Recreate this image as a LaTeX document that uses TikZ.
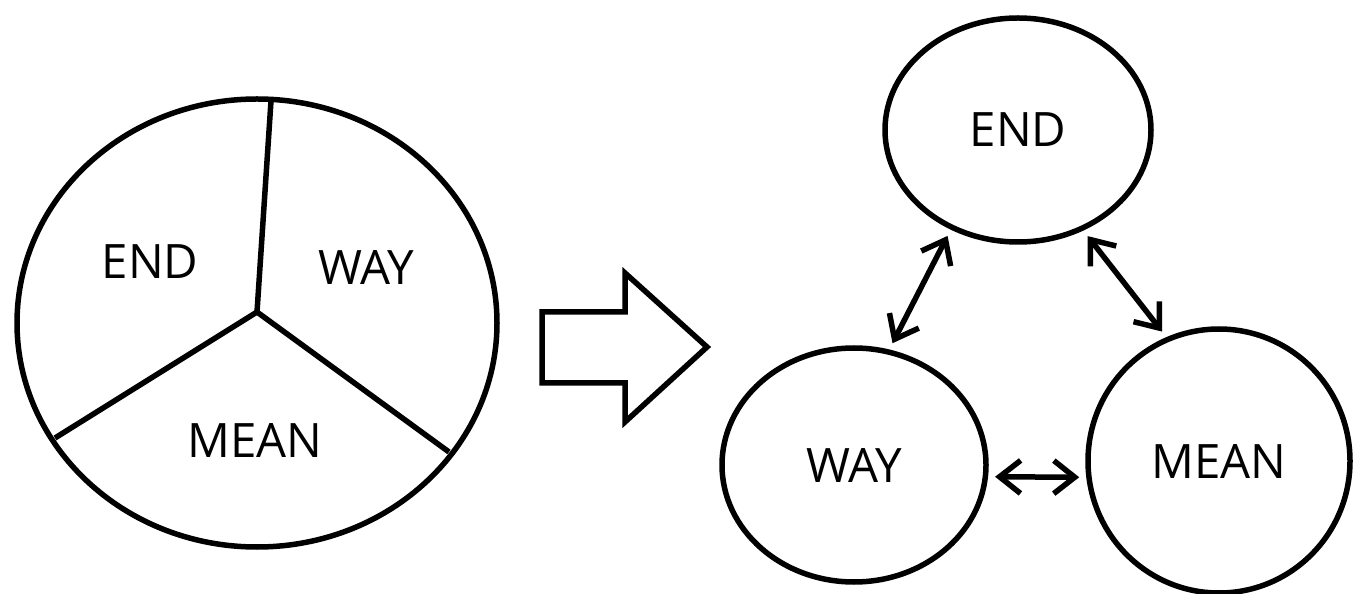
\documentclass[tikz,border=0pt]{standalone}
\usepackage{fontspec}
\setmainfont{Open Sans}
\usetikzlibrary{shapes.geometric,arrows.meta}
\begin{document}
\begin{tikzpicture}[x=0.02cm,y=-0.02cm,line width=0.11cm,
    word/.style={font=\fontsize{27}{32}\selectfont},
    bubble/.style={draw,ellipse,inner sep=0pt,word},
    duplex/.style={{Straight Barb[length=0.42cm,width=0.66cm]}-{Straight Barb[length=0.42cm,width=0.66cm]},
        shorten <=0.14cm,shorten >=0.14cm}]
    \useasboundingbox (0,0) rectangle (1356,594);

    % Pie split into three parts
    \draw (257,323) ellipse [x radius=240,y radius=224];
    \coordinate (hub) at (257,312);
    \draw (hub) -- (271,101);
    \draw (hub) -- (55,438);
    \draw (hub) -- (449,452);
    \node[word] (pieend) at (150,262) {END};
    \node[word] (pieway) at (366,268) {WAY};
    \node[word] (piemean) at (255,440) {MEAN};

    % Block arrow
    \draw[line join=miter] (542,312) -- (625,312) -- (625,273) -- (707,347)
        -- (625,422) -- (625,383) -- (542,383) -- cycle;

    % Three linked bubbles
    \node[bubble,minimum width=266*0.02cm,minimum height=224*0.02cm] (endn) at (1018,130) {END};
    \node[bubble,minimum width=264*0.02cm,minimum height=234*0.02cm] (wayn) at (854,465) {WAY};
    \node[bubble,minimum width=262*0.02cm,minimum height=264*0.02cm] (meann) at (1219,461) {MEAN};

    \draw[duplex] (endn.236) -- (wayn.73);
    \draw[duplex] (endn.303) -- (meann.113);
    \draw[duplex] (wayn.-5) -- (meann.187);
\end{tikzpicture}
\end{document}
